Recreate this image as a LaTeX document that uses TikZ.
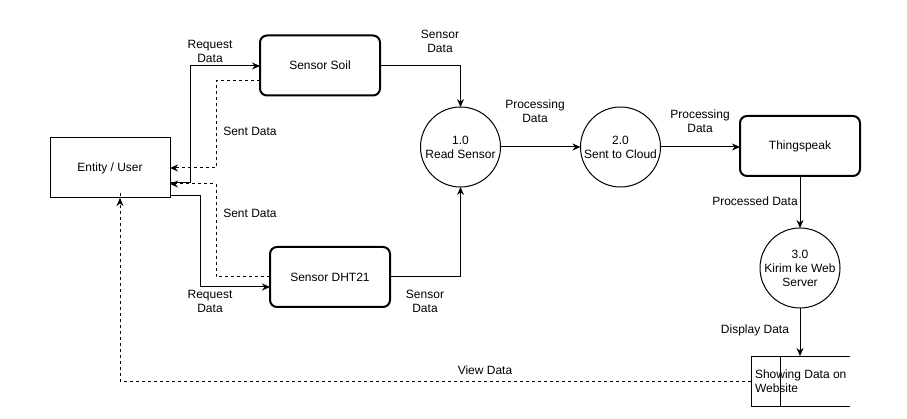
\documentclass[tikz,border=0pt]{standalone}
\usepackage{fontspec}
\setmainfont{Liberation Sans}
\usetikzlibrary{arrows.meta,positioning}
\begin{document}
\begin{tikzpicture}[x=1pt,y=-1pt,
  every node/.style={font=\fontsize{12}{14}\selectfont, inner sep=0pt, outer sep=0pt},
  entbox/.style={draw, line width=1pt, minimum width=120pt, minimum height=60pt},
  sensbox/.style={draw, line width=2pt, rounded corners=7pt, minimum width=120pt, minimum height=60pt},
  proc/.style={draw, circle, line width=1pt, minimum size=80pt, align=center},
  flow/.style={line width=1pt, -{Stealth[length=8pt,width=7pt]}},
  dflow/.style={line width=1pt, dash pattern=on 3pt off 3pt, -{Stealth[length=8pt,width=7pt]}},
  lbl/.style={align=center}
]
\useasboundingbox (0,0) rectangle (907,419);

\node[entbox] (user) at (110,168) {Entity / User};
\node[sensbox] (soil) at (320,65.5) {Sensor Soil};
\node[sensbox] (dht) at (330,277) {Sensor DHT21};
\node[proc] (p1) at (460.5,147) {1.0\\Read Sensor};
\node[proc] (p2) at (620.5,147) {2.0\\Sent to Cloud};
\node[sensbox] (thing) at (800,146) {Thingspeak};
\node[proc] (p3) at (800,268) {3.0\\Kirim ke Web\\Server};

% data store
\coordinate (dsTL) at (751,356);
\coordinate (dsBL) at (751,406);
\coordinate (dsTR) at (850,356);
\coordinate (dsBR) at (850,406);
\coordinate (dsTop) at (800,356);
\coordinate (dsLeft) at (751,381);
\draw[line width=1pt] (dsTR) -- (dsTL) -- (dsBL) -- (dsBR);
\draw[line width=1pt] (780,356) -- (780,406);
\node[align=left, anchor=west] (ds) at (755,381.5) {Showing Data on\\Website};

% request data soil
\draw[flow] ([yshift=-15pt]user.east) -| (190,66) -- (soil.west |- 0,66);
\node[lbl] (l1) at (210,51) {Request\\Data};
% sent data soil
\draw[dflow] (soil.west |- 0,81) -| (216,168) -- (user.east |- 0,168);
\node[lbl] (l2) at (250,131) {Sent Data};
% sent data dht
\draw[dflow] (dht.west |- 0,277) -| (216,184) -- (user.east |- 0,184);
\node[lbl] (l3) at (250,213) {Sent Data};
% request data dht
\draw[flow] (user.east |- 0,196) -| (200,287) -- (dht.west |- 0,287);
\node[lbl] (l4) at (210,301) {Request\\Data};

% sensor data
\draw[flow] (soil.east |- 0,66) -| (p1.north);
\node[lbl] (l5) at (440,41) {Sensor\\Data};
\draw[flow] (dht.east) -| (p1.south);
\node[lbl] (l6) at (425,301) {Sensor\\Data};

% processing
\draw[flow] (p1.east) -- (p2.west);
\node[lbl] (l7) at (535,111) {Processing\\Data};
\draw[flow] (p2.east) -- (thing.west |- p2.east);
\node[lbl] (l8) at (700,121) {Processing\\Data};

\draw[flow] (thing.south) -- (p3.north);
\node[lbl] (l9) at (755,201) {Processed Data};
\draw[flow] (p3.south) -- (dsTop);
\node[lbl] (l10) at (755,330) {Display Data};

\draw[dflow] (dsLeft) -| (120,198) -- (user.south -| 120,0);
\node[lbl] (l11) at (485,370) {View Data};
\end{tikzpicture}
\end{document}
